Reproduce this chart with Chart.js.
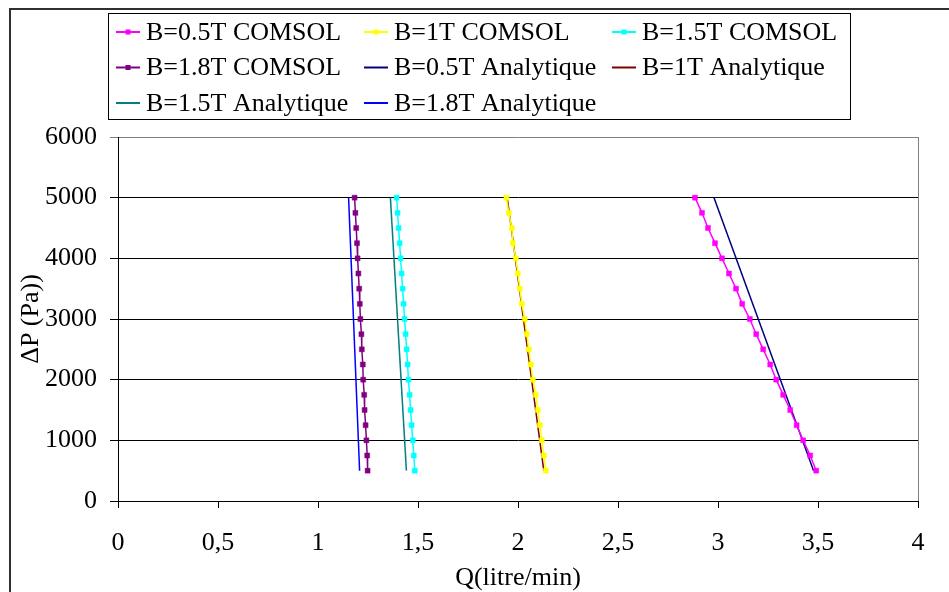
<!DOCTYPE html>
<html>
<head>
<meta charset="utf-8">
<title>Delta P vs Q</title>
<script src="https://cdn.jsdelivr.net/npm/chart.js@4/dist/chart.umd.min.js"></script>
<style>
  html, body { margin: 0; padding: 0; background: #fff; }
</style>
</head>
<body>
<canvas id="chart" width="949" height="592"></canvas>
<script>
/* Delta P against flow rate: COMSOL points and analytic lines for 4 field values */

var pressureComsol = [5000, 4750, 4500, 4250, 4000, 3750, 3500, 3250, 3000, 2750, 2500, 2250, 2000, 1750, 1500, 1250, 1000, 750, 500];
var qComsol05 = [2.885, 2.920, 2.950, 2.985, 3.020, 3.055, 3.090, 3.121, 3.159, 3.191, 3.226, 3.261, 3.291, 3.326, 3.361, 3.393, 3.426, 3.461, 3.491];
var qComsol1 = [1.942, 1.954, 1.969, 1.974, 1.989, 1.999, 2.009, 2.019, 2.034, 2.044, 2.054, 2.064, 2.074, 2.089, 2.099, 2.109, 2.119, 2.129, 2.139];
var qComsol15 = [1.393, 1.398, 1.403, 1.408, 1.413, 1.418, 1.423, 1.428, 1.433, 1.438, 1.443, 1.448, 1.452, 1.458, 1.463, 1.468, 1.474, 1.479, 1.484];
var qComsol18 = [1.183, 1.187, 1.191, 1.195, 1.198, 1.202, 1.206, 1.209, 1.212, 1.217, 1.219, 1.224, 1.226, 1.231, 1.233, 1.238, 1.242, 1.246, 1.248];

var pressureAnalytic = [5000, 500];
var qAnalytic05 = [2.980, 3.478];
var qAnalytic1 = [1.946, 2.129];
var qAnalytic15 = [1.362, 1.442];
var qAnalytic18 = [1.153, 1.208];

var xTickLabels = ['0', '0,5', '1', '1,5', '2', '2,5', '3', '3,5', '4'];
var yTickLabels = ['0', '1000', '2000', '3000', '4000', '5000', '6000'];

var serif = '"Liberation Serif", "Times New Roman", serif';

function toPoints(qs, ps) {
	return qs.map(function (q, i) {
		return { x: q, y: ps[i] };
	});
}

function comsol(label, color, qs) {
	return {
		label: label,
		data: toPoints(qs, pressureComsol),
		borderColor: color,
		backgroundColor: color,
		borderWidth: 1.5,
		pointStyle: 'rect',
		pointRadius: 3.5,
		pointBorderWidth: 0.5
	};
}

function analytic(label, color, qs) {
	return {
		label: label,
		data: toPoints(qs, pressureAnalytic),
		borderColor: color,
		backgroundColor: color,
		borderWidth: 1.5,
		pointRadius: 0
	};
}

// Frame round the whole chart plus the 3 column legend box
var frameAndLegend = {
	id: 'frameAndLegend',
	beforeDatasetsDraw: function (chart) {
		var ctx = chart.ctx;
		var a = chart.chartArea;
		ctx.save();
		ctx.strokeStyle = '#808080';
		ctx.lineWidth = 1;
		ctx.beginPath();
		ctx.moveTo(Math.round(a.right) + 0.5, a.top);
		ctx.lineTo(Math.round(a.right) + 0.5, a.bottom);
		ctx.stroke();
		ctx.restore();
	},
	afterDraw: function (chart) {
		var ctx = chart.ctx;
		ctx.save();

		ctx.strokeStyle = '#303030';
		ctx.lineWidth = 2;
		ctx.beginPath();
		ctx.moveTo(10, 600);
		ctx.lineTo(10, 9);
		ctx.lineTo(960, 9);
		ctx.stroke();

		ctx.strokeStyle = '#000';
		ctx.lineWidth = 1;
		ctx.strokeRect(108.5, 13.5, 742, 106);

		ctx.font = '26px ' + serif;
		ctx.textBaseline = 'middle';
		ctx.textAlign = 'left';
		chart.data.datasets.forEach(function (ds, i) {
			var col = i % 3;
			var row = Math.floor(i / 3);
			var tx = 146 + col * 248;
			var ty = 32 + row * 35.5;
			ctx.strokeStyle = ds.borderColor;
			ctx.lineWidth = 2;
			ctx.beginPath();
			ctx.moveTo(tx - 30, ty);
			ctx.lineTo(tx - 6, ty);
			ctx.stroke();
			if (ds.pointRadius > 0) {
				ctx.fillStyle = ds.borderColor;
				ctx.fillRect(tx - 20.5, ty - 2.5, 5, 5);
			}
			ctx.fillStyle = '#000';
			ctx.fillText(ds.label, tx, ty + 1);
		});
		ctx.restore();
	}
};

new Chart(
	document.getElementById('chart'),
	{
		type: 'line',
		data: {
			datasets: [
				comsol('B=0.5T COMSOL', '#ff00ff', qComsol05),
				comsol('B=1T COMSOL', '#ffff00', qComsol1),
				comsol('B=1.5T COMSOL', '#00ffff', qComsol15),
				comsol('B=1.8T COMSOL', '#800080', qComsol18),
				analytic('B=0.5T Analytique', '#000080', qAnalytic05),
				analytic('B=1T Analytique', '#800000', qAnalytic1),
				analytic('B=1.5T Analytique', '#008080', qAnalytic15),
				analytic('B=1.8T Analytique', '#0000ff', qAnalytic18)
			]
		},
		options: {
			responsive: false,
			animation: false,
			events: [],
			layout: { padding: { top: 137, right: 31, bottom: 0, left: 0 } },
			elements: { line: { tension: 0 } },
			plugins: {
				legend: { display: false },
				tooltip: { enabled: false }
			},
			scales: {
				x: {
					type: 'linear',
					min: 0,
					max: 4,
					afterFit: function (scale) { scale.height = 91; },
					border: { color: '#000', width: 1 },
					grid: { drawOnChartArea: false, tickLength: 7, color: '#000' },
					ticks: {
						stepSize: 0.5,
						maxRotation: 0,
						autoSkip: false,
						padding: 22,
						color: '#000',
						font: { family: serif, size: 26, lineHeight: 1 },
						callback: function (v, i) { return xTickLabels[i]; }
					},
					title: {
						display: true,
						text: 'Q(litre/min)',
						color: '#000',
						padding: { top: 0, bottom: 1 },
						font: { family: serif, size: 26, lineHeight: 1 }
					}
				},
				y: {
					type: 'linear',
					min: 0,
					max: 6000,
					afterFit: function (scale) { scale.width = 118; },
					border: { color: '#000', width: 1 },
					grid: {
						tickLength: 8,
						color: function (c) { return c.tick && c.tick.value === 6000 ? '#808080' : '#000'; }
					},
					ticks: {
						stepSize: 1000,
						padding: 13,
						color: '#000',
						font: { family: serif, size: 26, lineHeight: 1 },
						callback: function (v, i) { return yTickLabels[i]; }
					},
					title: {
						display: true,
						text: 'ΔP (Pa))',
						color: '#000',
						padding: { top: 18, bottom: 0 },
						font: { family: serif, size: 26, lineHeight: 1 }
					}
				}
			}
		},
		plugins: [frameAndLegend]
	}
);
</script>
</body>
</html>
